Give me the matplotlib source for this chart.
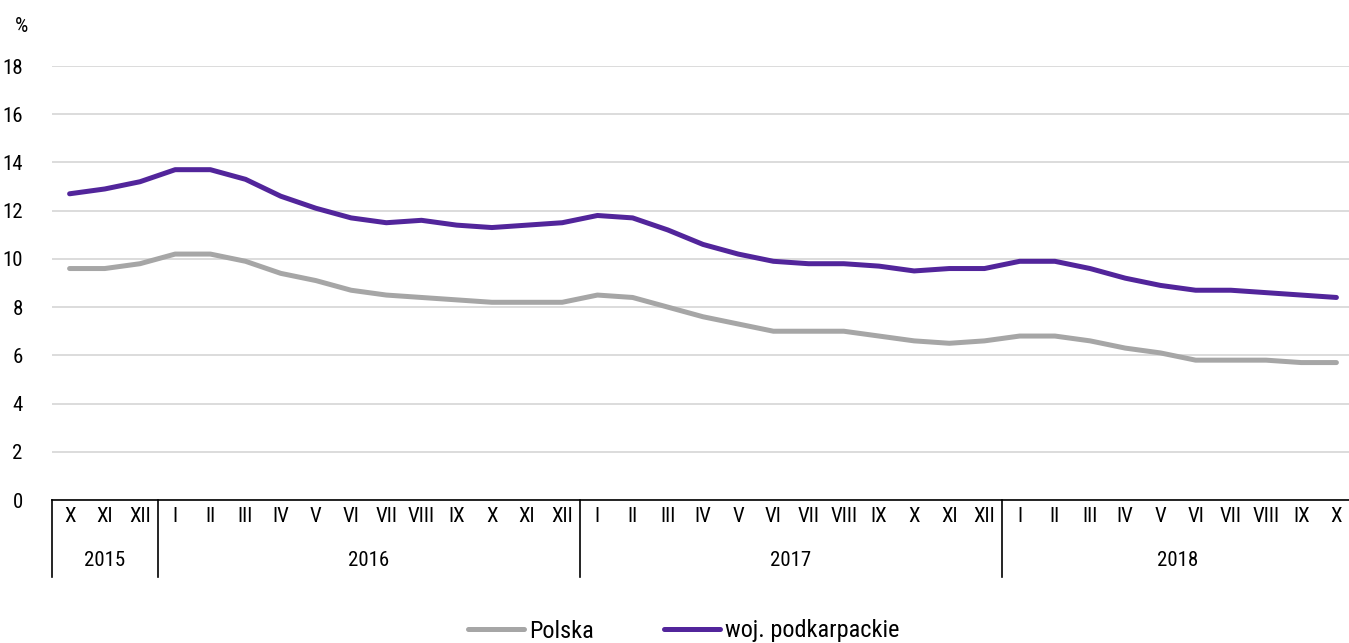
import matplotlib
matplotlib.use('Agg')
import matplotlib.pyplot as plt
from matplotlib import font_manager

# months X 2015 .. X 2018
months = ["X", "XI", "XII",
          "I", "II", "III", "IV", "V", "VI", "VII", "VIII", "IX", "X", "XI", "XII",
          "I", "II", "III", "IV", "V", "VI", "VII", "VIII", "IX", "X", "XI", "XII",
          "I", "II", "III", "IV", "V", "VI", "VII", "VIII", "IX", "X"]
years = ["2015", "2016", "2017", "2018"]
year_lengths = [3, 12, 12, 10]

polska = [9.6, 9.6, 9.8,
          10.2, 10.2, 9.9, 9.4, 9.1, 8.7, 8.5, 8.4, 8.3, 8.2, 8.2, 8.2,
          8.5, 8.4, 8.0, 7.6, 7.3, 7.0, 7.0, 7.0, 6.8, 6.6, 6.5, 6.6,
          6.8, 6.8, 6.6, 6.3, 6.1, 5.8, 5.8, 5.8, 5.7, 5.7]
podkarpackie = [12.7, 12.9, 13.2,
                13.7, 13.7, 13.3, 12.6, 12.1, 11.7, 11.5, 11.6, 11.4, 11.3, 11.4, 11.5,
                11.8, 11.7, 11.2, 10.6, 10.2, 9.9, 9.8, 9.8, 9.7, 9.5, 9.6, 9.6,
                9.9, 9.9, 9.6, 9.2, 8.9, 8.7, 8.7, 8.6, 8.5, 8.4]

names = {f.name for f in font_manager.fontManager.ttflist}
fams = [f for f in ['Roboto Condensed', 'Liberation Sans Narrow'] if f in names]
plt.rcParams['font.family'] = fams + ['Roboto', 'DejaVu Sans']

W, H = 1349, 643
fs = 15
fig = plt.figure(figsize=(W / 100, H / 100), dpi=100)
ax_l, ax_r, ax_t, ax_b = 52, 1354, 66, 500
ax = fig.add_axes([ax_l / W, 1 - ax_b / H, (ax_r - ax_l) / W, (ax_b - ax_t) / H])

x = list(range(len(months)))
ax.plot(x, polska, color='#a6a6a6', lw=3.6, solid_capstyle='round', label='Polska', zorder=3)
ax.plot(x, podkarpackie, color='#52259b', lw=3.6, solid_capstyle='round',
        label='woj. podkarpackie', zorder=3)

ax.set_xlim(-0.5, len(months) - 0.5)
ax.set_ylim(0, 18)
ax.set_yticks(range(0, 19, 2))
ax.grid(axis='y', color='#d9d9d9', lw=1.3)
ax.set_axisbelow(True)
for s in ['top', 'right', 'left']:
    ax.spines[s].set_visible(False)
ax.spines['bottom'].set_color('black')
ax.spines['bottom'].set_linewidth(1.2)

ax.tick_params(axis='y', length=0, pad=21, labelsize=fs)
ax.set_xticks(x)
ax.set_xticklabels(months, fontsize=fs)
ax.tick_params(axis='x', length=0, pad=5)

# year labels and separators
plot_h = ax_b - ax_t
sep_bottom = -77 / plot_h
trans = ax.get_xaxis_transform()
start = -0.5
ax.plot([start, start], [0, sep_bottom], color='black', lw=1.2, transform=trans, clip_on=False)
for yr, n in zip(years, year_lengths):
    end = start + n
    ax.text((start + end) / 2, -61 / plot_h, yr, ha='center', va='center',
            fontsize=fs, transform=trans)
    if end < len(months) - 0.5:
        ax.plot([end, end], [0, sep_bottom], color='black', lw=1.2, transform=trans, clip_on=False)
    start = end

fig.text(22 / W, 1 - 27 / H, '%', ha='center', va='center', fontsize=fs)

fig.legend(loc='center', bbox_to_anchor=(684 / W, 1 - 631 / H), ncol=2, frameon=False,
           fontsize=17.5, handlelength=2.3, columnspacing=2.9, handletextpad=0.2)

fig.savefig('out.png', dpi=100)
